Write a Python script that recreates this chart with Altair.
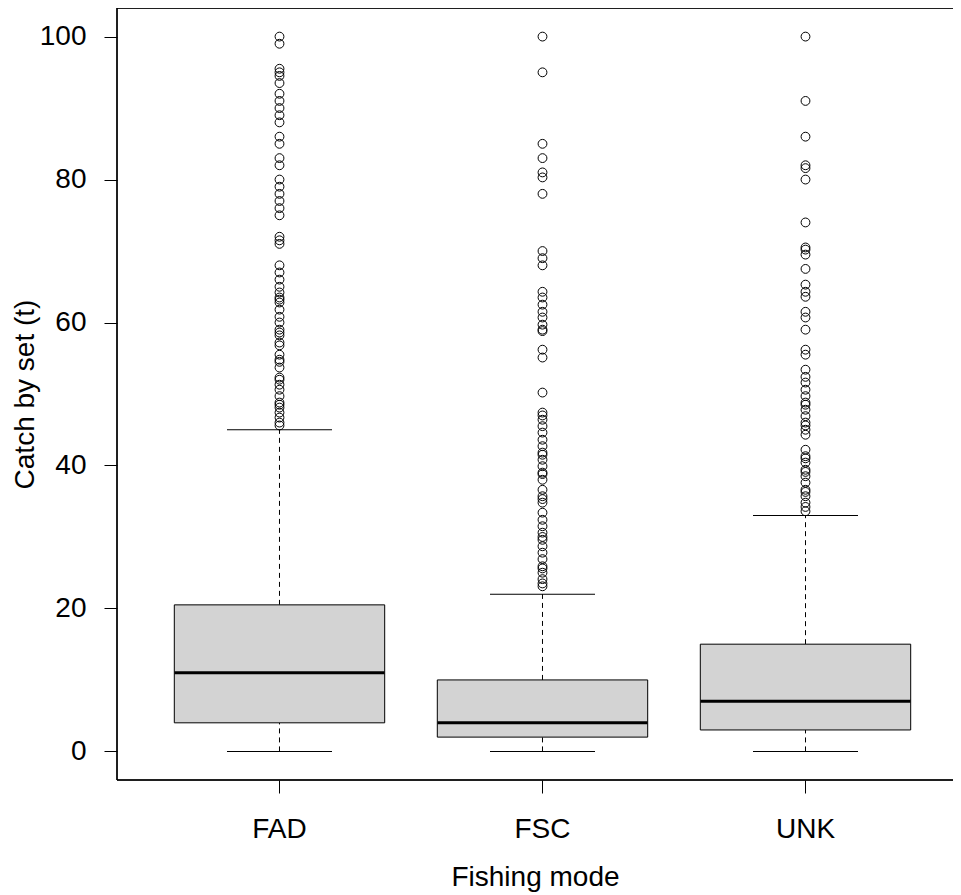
import altair as alt
import pandas as pd

categories = ["FAD", "FSC", "UNK"]
q1 = [4.0, 2.0, 3.0]
median = [11.0, 4.0, 7.0]
q3 = [20.5, 10.0, 15.0]
whisker_low = [0.0, 0.0, 0.0]
whisker_high = [45.0, 22.0, 33.0]

outliers_fad = [100, 99, 95.5, 95, 94.5, 93.5, 92, 91, 90, 89, 88, 86, 85, 83, 82,
                80, 79, 78, 77, 76, 75, 72, 71.5, 71, 68, 67, 66, 65, 64.2, 63.5,
                63.2, 62.8, 61.8, 60.8, 60.0, 59.0, 58.6, 58.2, 57.2, 56.8, 55.5,
                54.8, 54.5, 53.7, 52.3, 52.0, 51.3, 50.6, 49.7, 48.8, 48.5, 48.1,
                47.4, 46.7, 46.0, 45.6]
outliers_fsc = [100, 95, 85, 83, 81, 80.3, 78, 70, 69, 68, 64.3, 63.5, 62.5, 61.5,
                60.7, 59.7, 59.0, 58.8, 56.2, 55.1, 50.2, 47.4, 47.0, 46.4, 45.5,
                44.6, 43.6, 42.7, 41.8, 41.5, 40.8, 39.9, 39.0, 38.8, 38.0, 36.6,
                35.7, 35.3, 34.8, 33.4, 32.4, 31.5, 30.6, 30.0, 29.6, 28.7, 27.8,
                26.9, 25.9, 25.6, 25.0, 24.1, 23.5, 23.1]
outliers_unk = [100, 91, 86, 82, 81.6, 80, 74, 70.5, 70.2, 69.5, 67.5, 65.3, 64.3,
                63.6, 61.5, 60.7, 59.0, 56.2, 55.5, 53.4, 52.4, 51.6, 50.6, 49.7,
                48.8, 48.5, 47.8, 46.9, 46.0, 45.6, 45.0, 44.3, 42.2, 41.3, 41.0,
                40.4, 39.4, 39.1, 38.5, 37.6, 36.6, 36.3, 35.7, 34.8, 34.2, 33.6]

y_ticks = [0, 20, 40, 60, 80, 100]

stats = pd.DataFrame({"mode": categories, "q1": q1, "median": median, "q3": q3,
                      "lo": whisker_low, "hi": whisker_high})
out = pd.DataFrame({
    "mode": ["FAD"] * len(outliers_fad) + ["FSC"] * len(outliers_fsc) + ["UNK"] * len(outliers_unk),
    "value": outliers_fad + outliers_fsc + outliers_unk,
})

FONT = "Liberation Sans"
FS = 28
W, H = 836, 772

xscale = alt.Scale(type="band", domain=categories, paddingInner=0.2,
                   paddingOuter=0.18935, align=0.5753, round=False)
yscale = alt.Scale(domain=[-4, 104], nice=False, zero=False)

x_enc = alt.X("mode:N", scale=xscale, axis=alt.Axis(
    title="Fishing mode", labelAngle=0, tickSize=13, labelPadding=22,
    titlePadding=20, domain=False, grid=False, tickColor="black",
    labelColor="black", titleColor="black", labelFontSize=FS, titleFontSize=FS,
    labelFont=FONT, titleFont=FONT, titleFontWeight="normal"))

y_axis = alt.Axis(
    title="Catch by set (t)", values=y_ticks, tickSize=13, labelPadding=18,
    titlePadding=0, domain=False, grid=False, tickColor="black",
    labelColor="black", titleColor="black", labelFontSize=FS, titleFontSize=FS,
    labelFont=FONT, titleFont=FONT, titleFontWeight="normal", labelAngle=0)

base = alt.Chart(stats)

lower = base.mark_rule(color="black", strokeDash=[5, 4], strokeWidth=1).encode(
    x=x_enc, y=alt.Y("lo:Q", scale=yscale, axis=y_axis), y2="q1:Q")
upper = base.mark_rule(color="black", strokeDash=[5, 4], strokeWidth=1).encode(
    x=x_enc, y=alt.Y("q3:Q", scale=yscale, axis=y_axis), y2="hi:Q")
box = base.mark_bar(fill="#d3d3d3", stroke="black", strokeWidth=1, opacity=1).encode(
    x=x_enc, y=alt.Y("q1:Q", scale=yscale, axis=y_axis), y2="q3:Q")
med = base.mark_tick(color="black", size=210, thickness=3, opacity=1).encode(
    x=x_enc, y=alt.Y("median:Q", scale=yscale, axis=y_axis))
cap_lo = base.mark_tick(color="black", size=105, thickness=1, opacity=1).encode(
    x=x_enc, y=alt.Y("lo:Q", scale=yscale, axis=y_axis))
cap_hi = base.mark_tick(color="black", size=105, thickness=1, opacity=1).encode(
    x=x_enc, y=alt.Y("hi:Q", scale=yscale, axis=y_axis))
pts = alt.Chart(out).mark_point(shape="circle", filled=False, color="black",
                                size=78, strokeWidth=1, opacity=1).encode(
    x=x_enc, y=alt.Y("value:Q", scale=yscale, axis=y_axis))

# plot frame (left, top, bottom; the right side falls beyond the picture)
frame_left = alt.Chart(stats).mark_rule(color="black", strokeWidth=1).encode(
    x=alt.value(0), y=alt.value(0), y2=alt.value(H))
frame_top = alt.Chart(stats).mark_rule(color="black", strokeWidth=1).encode(
    x=alt.value(0), x2=alt.value(W + 20), y=alt.value(0))
frame_bottom = alt.Chart(stats).mark_rule(color="black", strokeWidth=1).encode(
    x=alt.value(0), x2=alt.value(W + 20), y=alt.value(H))

chart = alt.layer(lower, upper, box, med, cap_lo, cap_hi, pts,
                  frame_left, frame_top, frame_bottom).properties(
    width=W, height=H,
    padding={"left": 109, "top": 0, "right": 0, "bottom": 115},
    autosize=alt.AutoSizeParams(type="none"),
    background="white",
).configure_view(strokeWidth=0)

chart.save("out.html", embed_options={"renderer": "svg", "actions": False})
